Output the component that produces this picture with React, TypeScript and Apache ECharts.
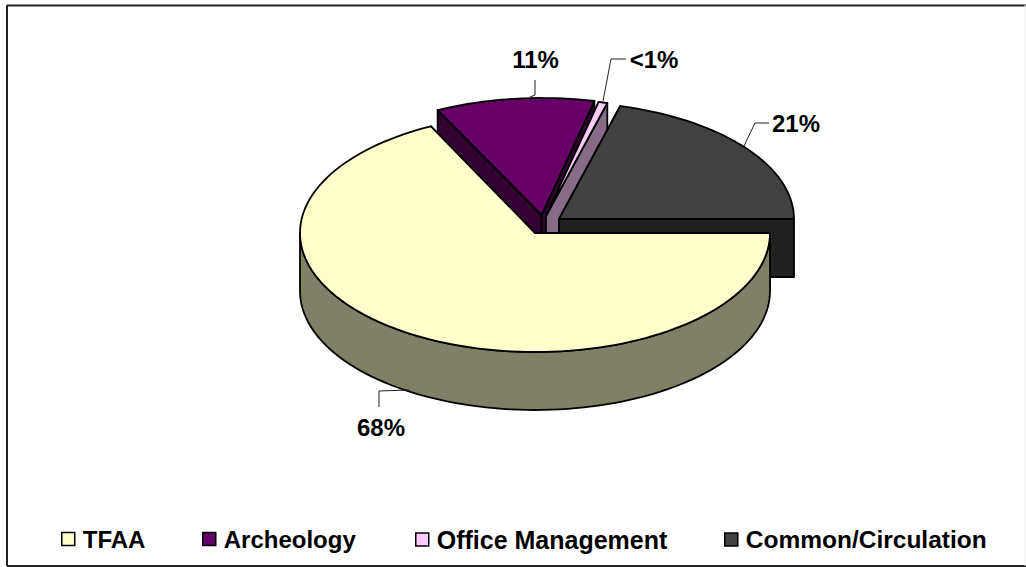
import React, { useEffect, useRef } from "react";
import * as echarts from "echarts";

const categories = ["TFAA", "Archeology", "Office Management", "Common/Circulation"];
const shares = [67.7, 10.9, 0.6, 20.8];
const percentLabels = ["68%", "11%", "<1%", "21%"];

const topColors = ["#ffffcc", "#660066", "#ffccff", "#424242"];
const sideColors = ["#808066", "#330033", "#876b87", "#212121"];
const apexes = [[535, 233], [541.7, 215], [546, 216], [559, 219]];
const radiiY = [119, 117, 117, 117];
const labelAnchors = [[381, 427], [535.5, 59], [654, 59], [796, 123]];
const leaders = [
  [[379, 407], [379, 391], [409, 390]],
  [[535, 80], [535, 95], [530, 97]],
  [[626, 59], [611, 59], [603, 101]],
  [[769, 123], [755, 123], [744, 146]],
];
const legendLeft = [61, 202, 415, 724];
const legendFontSizes = [24, 24, 25, 24.5];
const drawOrder = [1, 2, 3, 0];

const RX = 235;
const DEPTH = 58;
const FONT = '"Liberation Sans", Arial, sans-serif';
const total = shares.reduce((a, b) => a + b, 0);

function arc(cx: number, cy: number, ry: number, from: number, to: number) {
  const pts: number[][] = [];
  const n = Math.max(2, Math.ceil((to - from) / 2));
  for (let i = 0; i <= n; i++) {
    const t = ((from + ((to - from) * i) / n) * Math.PI) / 180;
    pts.push([cx + RX * Math.cos(t), cy + ry * Math.sin(t)]);
  }
  return pts;
}

function sliceRender(idx: number) {
  return () => {
    const before = shares.slice(0, idx).reduce((a, b) => a + b, 0);
    const from = (before / total) * 360;
    const to = ((before + shares[idx]) / total) * 360;
    const [cx, cy] = apexes[idx];
    const ry = radiiY[idx];
    const edge = { stroke: "#000", lineWidth: 1.8, lineJoin: "round" };
    const wallStyle = { ...edge, fill: sideColors[idx] };
    const children: any[] = [];
    const rim = arc(cx, cy, ry, from, to);
    const cut = (p: number[]) => ({
      type: "polygon",
      shape: { points: [[cx, cy], p, [p[0], p[1] + DEPTH], [cx, cy + DEPTH]] },
      style: wallStyle,
    });
    children.push(cut(rim[0]));
    children.push(cut(rim[rim.length - 1]));
    if (from < 180) {
      const outer = arc(cx, cy, ry, from, Math.min(to, 180));
      const lower = outer.map((p) => [p[0], p[1] + DEPTH]).reverse();
      children.push({ type: "polygon", shape: { points: [...outer, ...lower] }, style: wallStyle });
    }
    children.push({
      type: "polygon",
      shape: { points: [[cx, cy], ...rim] },
      style: { ...edge, fill: topColors[idx] },
    });
    children.push({
      type: "polyline",
      shape: { points: leaders[idx] },
      style: { stroke: "#222", lineWidth: 1, fill: "none" },
    });
    children.push({
      type: "text",
      style: {
        text: percentLabels[idx],
        x: labelAnchors[idx][0],
        y: labelAnchors[idx][1],
        align: "center",
        verticalAlign: "middle",
        fill: "#000",
        font: `bold 24px ${FONT}`,
      },
    });
    return { type: "group", children };
  };
}

export default function App() {
  const ref = useRef<HTMLDivElement>(null);
  useEffect(() => {
    const chart = echarts.init(ref.current!, null, { renderer: "svg" });
    const frame = { stroke: "#222", lineWidth: 2 };
    chart.setOption({
      animation: false,
      backgroundColor: "#fff",
      legend: categories.map((name, i) => ({
        data: [name],
        left: legendLeft[i],
        top: 527,
        padding: 0,
        itemWidth: 13,
        itemHeight: 13,
        selectedMode: false,
        icon: "rect",
        itemStyle: { borderColor: "#000", borderWidth: 1.5 },
        textStyle: {
          fontSize: legendFontSizes[i],
          fontWeight: "bold",
          color: "#000",
          fontFamily: FONT,
          padding: [0, 0, 0, 3],
        },
      })),
      graphic: [
        { type: "line", shape: { x1: 7, y1: 5.5, x2: 1026, y2: 5.5 }, style: frame },
        { type: "line", shape: { x1: 7, y1: 5, x2: 7, y2: 566 }, style: frame },
        { type: "line", shape: { x1: 7, y1: 566, x2: 1026, y2: 566 }, style: frame },
        { type: "line", shape: { x1: 1025, y1: 5, x2: 1025, y2: 566 }, style: { stroke: "#eeeeee", lineWidth: 1 } },
      ],
      series: drawOrder.map((i) => ({
        type: "custom",
        name: categories[i],
        coordinateSystem: "none",
        data: [shares[i]],
        itemStyle: { color: topColors[i] },
        renderItem: sliceRender(i),
      })),
    });
    return () => chart.dispose();
  }, []);
  return <div ref={ref} style={{ position: "absolute", left: 0, top: 0, width: 1026, height: 567 }} />;
}
